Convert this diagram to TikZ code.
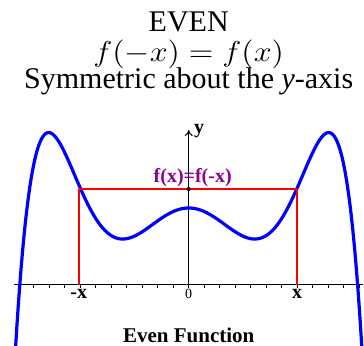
\documentclass[tikz,border=0pt]{standalone}
\usepackage{fontspec}
\setmainfont{Liberation Serif}
\usepackage{xcolor}
\usepackage{tikz}
\usetikzlibrary{arrows.meta,positioning}
\definecolor{evblue}{RGB}{0,0,255}
\definecolor{evred}{RGB}{255,0,0}
\definecolor{evpurple}{RGB}{145,0,145}
\tikzset{
  curve/.style={draw=evblue, line width=1.6pt, line join=round},
  guide/.style={draw=evred, line width=1pt},
  axis/.style={draw=black, line width=0.5pt},
  ttl/.style={anchor=base, inner sep=0pt, font=\fontsize{15}{18}\selectfont},
  lbl/.style={anchor=base, inner sep=0pt, font=\fontsize{10}{12}\selectfont\bfseries},
}

\begin{document}
\begin{tikzpicture}[x=0.5pt, y=0.5pt,
  declare function={gg(\t)=(\t*\t*\t*\t*\t*\t)/6-1.375*\t*\t*\t*\t+2.25*\t*\t;}]
  \useasboundingbox (-188.7,-61) rectangle (175.3,285);
  % title
  \node[ttl, text depth=0pt] (even) at (0,253) {EVEN};
  \node[ttl, font=\fontsize{15}{18}\selectfont, transform shape, xscale=1.12] (rule) at (0,223)
     {$f(-x)=f(x)$};
  \node[ttl] (symm) at (0,196) {Symmetric about the \textit{y}-axis};
  % axes
  \coordinate (xa) at (-174.7,0);
  \coordinate (xb) at (174,0);
  \coordinate (o) at (0,0);
  \coordinate (ytop) at (0,155);
  \draw[axis] (xa) -- (xb);
  \draw[axis, -{To[length=3pt,width=4pt]}] (o) -- (ytop);
  \foreach \k in {-11,...,11}
     \draw[axis] (15.5*\k,0) -- ++(0,-3);
  \node[lbl, anchor=base west] (ylab) at (5,151) {y};
  % curve
  \begin{scope}
    \clip (-188.7,-61) rectangle (175.3,285);
    \draw[curve] plot[domain=-2.65:2.65, samples=240, smooth]
       ({66*\x},{77-29.8*gg(\x)});
  \end{scope}
  % f(x) = f(-x)
  \coordinate (xl) at (-109.5,0);
  \coordinate (xr) at (108.5,0);
  \coordinate (pl) at (-109.5,96);
  \coordinate (pr) at (108.5,96);
  \coordinate (pm) at (0,96);
  \draw[guide] (xl) -- (pl);
  \draw[guide] (xr) -- (pr);
  \draw[guide, line width=0.6pt] (pl) -- (pr);
  \fill (pm) circle (1pt);
  \node[lbl, text=evpurple] (feq) at (4,102) {f(x)=f(-x)};
  % labels
  \node[lbl] (mx) at (-110,-14) {-x};
  \node[lbl] (px) at (108.5,-14) {x};
  \node[lbl, font=\fontsize{7}{8}\selectfont] (zero) at (0,-13.5) {0};
  \node[lbl, font=\fontsize{10.5}{12}\selectfont\bfseries] (cap) at (0,-58) {Even Function};
\end{tikzpicture}
\end{document}
